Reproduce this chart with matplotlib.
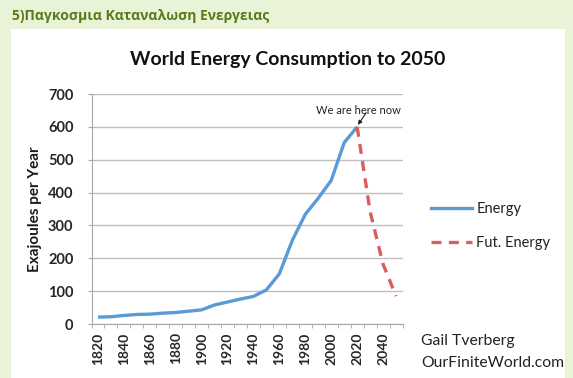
import matplotlib
matplotlib.use("Agg")
import matplotlib.pyplot as plt
from matplotlib.patches import Rectangle
from matplotlib.lines import Line2D

# ---- data ----
years = [1820, 1830, 1840, 1850, 1860, 1870, 1880, 1890, 1900, 1910, 1920, 1930,
         1940, 1950, 1960, 1970, 1980, 1990, 2000, 2010, 2020]
energy = [21, 22, 26, 29, 30, 33, 35, 39, 43, 58, 67, 76,
          84, 104, 153, 255, 334, 383, 437, 552, 600]
fut_years = [2020, 2030, 2040, 2050]
fut_energy = [600, 342, 182, 85]
xtick_years = [1820, 1840, 1860, 1880, 1900, 1920, 1940, 1960, 1980, 2000, 2020, 2040]
yticks = [0, 100, 200, 300, 400, 500, 600, 700]

W, H = 573, 378
fig = plt.figure(figsize=(W / 100, H / 100), dpi=100)
fig.patch.set_facecolor('#E9F3D8')
fig.patches.append(Rectangle((11 / W, 0), (565 - 11) / W, (H - 29) / H,
                             transform=fig.transFigure, facecolor='white',
                             edgecolor='none', zorder=-10))

fig.text(12 / W, 1 - 16 / H, '5)Παγκοσμια Καταναλωση Ενεργειας',
         family='Open Sans', fontweight='bold', fontsize=10,
         color='#5C7A1A', va='center', ha='left')

ax = fig.add_axes([91.5 / W, 54 / H, 311 / W, 230 / H])
ax.set_facecolor('none')
ax.set_xlim(1815, 2055)
ax.set_ylim(0, 700)

blue = '#5B9BD5'
red = '#D9605A'
dash = (0, (3.0, 2.2))
ax.plot(years, energy, color=blue, lw=2.4, solid_capstyle='butt', zorder=3)
ax.plot(fut_years, fut_energy, color=red, lw=2.4, linestyle=dash, zorder=3)

ax.set_yticks(yticks)
ax.set_xticks(xtick_years)
ax.set_xticks([1815 + 10 * i for i in range(25)], minor=True)
ax.grid(axis='y', color='#BFBFBF', lw=1.0, zorder=1)
ax.set_axisbelow(True)

for s in ['top', 'right']:
    ax.spines[s].set_visible(False)
ax.spines['left'].set_color('#A6A6A6')
ax.spines['bottom'].set_color('#A6A6A6')
ax.spines['bottom'].set_linestyle((0, (2, 1)))

ax.tick_params(axis='y', length=3, color='#A6A6A6', pad=10,
               labelsize=10.5, labelcolor='#262626')
ax.tick_params(axis='x', which='major', length=0, pad=6,
               labelsize=10, labelcolor='#262626', labelrotation=90)
ax.tick_params(axis='x', which='minor', length=3, color='#A6A6A6')
for lab in ax.get_yticklabels() + ax.get_xticklabels():
    lab.set_family('Lato')
    lab.set_fontweight('bold')

ax.set_ylabel('Exajoules per Year', family='Lato', fontweight='bold',
              fontsize=11, color='#1a1a1a', labelpad=4)

fig.text(288 / W, 1 - 60 / H, 'World Energy Consumption to 2050',
         family='Lato', fontweight='bold', fontsize=14, color='#111111',
         ha='center', va='center')

ax.text(2021.2, 651, 'We are here now', family='Lato', fontsize=8,
        color='#222222', ha='center', va='center')
ax.annotate('', xy=(2020.6, 606), xytext=(2027, 643),
            arrowprops=dict(arrowstyle='-|>', color='#222222', lw=0.8,
                            mutation_scale=6, shrinkA=0, shrinkB=0))

handles = [Line2D([], [], color=blue, lw=2.4),
           Line2D([], [], color=red, lw=2.4, linestyle=dash)]
leg = fig.legend(handles, ['Energy', 'Fut. Energy'], loc='center left',
                 bbox_to_anchor=(418 / W, 1 - 226 / H), frameon=False,
                 prop={'family': 'Lato', 'size': 10.5}, handlelength=2.8,
                 handletextpad=0.3, labelspacing=1.35)
for t in leg.get_texts():
    t.set_color('#222222')

fig.text(421 / W, 1 - 341 / H, 'Gail Tverberg', family='Lato', fontsize=11.3,
         color='#222222', ha='left', va='center')
fig.text(421 / W, 1 - 363 / H, 'OurFiniteWorld.com', family='Lato',
         fontsize=11.3, color='#222222', ha='left', va='center')

fig.savefig('out.png', dpi=100, facecolor=fig.get_facecolor())
